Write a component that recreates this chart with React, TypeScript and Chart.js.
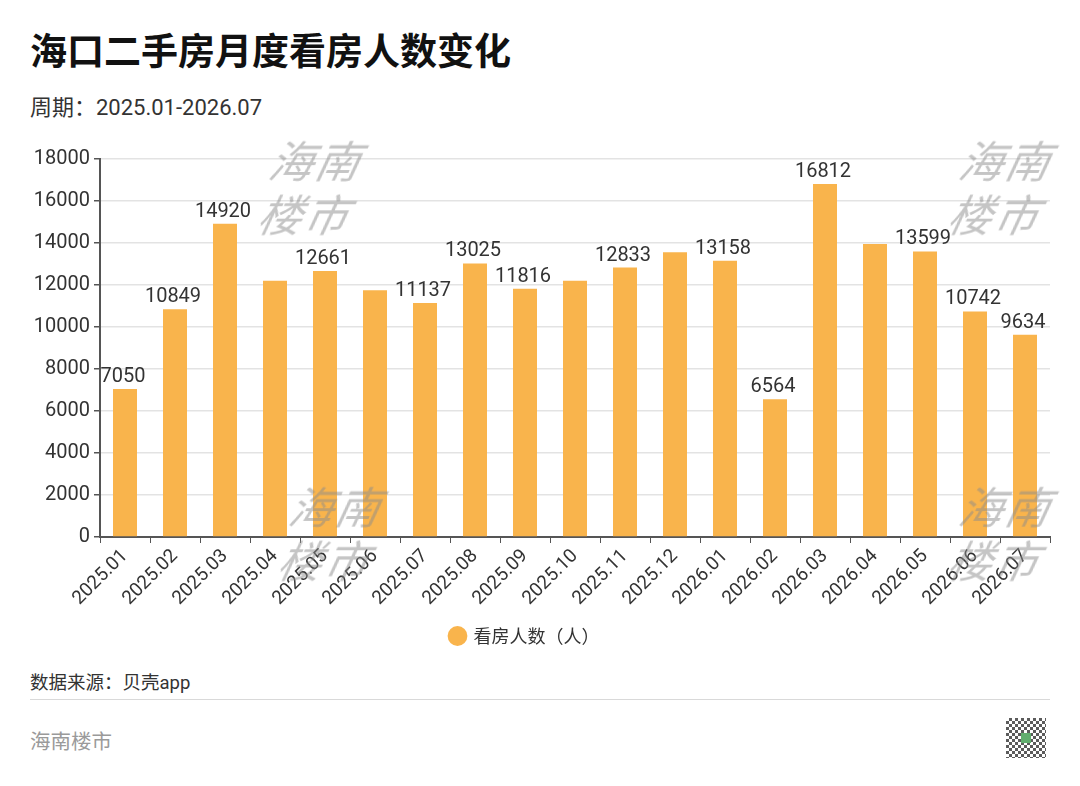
import React, { useEffect, useRef } from "react";
import { Chart, registerables } from "chart.js";

Chart.register(...registerables);

const categories = [
  "2025.01", "2025.02", "2025.03", "2025.04", "2025.05", "2025.06", "2025.07",
  "2025.08", "2025.09", "2025.10", "2025.11", "2025.12", "2026.01", "2026.02",
  "2026.03", "2026.04", "2026.05", "2026.06", "2026.07",
];
const viewers = [
  7050, 10849, 14920, 12200, 12661, 11750, 11137, 13025, 11816, 12200, 12833,
  13560, 13158, 6564, 16812, 13950, 13599, 10742, 9634,
];
// whether the reference prints the value above the bar
const showValue = [
  true, true, true, false, true, false, true, true, true, false, true, false,
  true, true, true, false, true, true, true,
];
const yTicks = [0, 2000, 4000, 6000, 8000, 10000, 12000, 14000, 16000, 18000];

const FONT = "Roboto, 'Noto Sans CJK SC', 'Noto Sans', sans-serif";
const CJK = "'Noto Sans CJK SC', 'Noto Sans', sans-serif";
const BAR = "#F9B44C";

const valueLabels = {
  id: "valueLabels",
  afterDatasetsDraw(chart: any) {
    const ctx = chart.ctx;
    const meta = chart.getDatasetMeta(0);
    ctx.save();
    ctx.font = `20px ${FONT}`;
    ctx.fillStyle = "#333";
    ctx.textAlign = "center";
    ctx.textBaseline = "alphabetic";
    meta.data.forEach((el: any, i: number) => {
      if (!showValue[i]) return;
      ctx.fillText(String(viewers[i]), el.x - 2, el.y - 7);
    });
    ctx.restore();
  },
};

function ChartCanvas() {
  const ref = useRef<HTMLCanvasElement | null>(null);
  useEffect(() => {
    if (!ref.current) return;
    const chart = new Chart(ref.current, {
      type: "bar",
      data: {
        labels: categories,
        datasets: [
          {
            label: "看房人数（人）",
            data: viewers,
            backgroundColor: BAR,
            borderWidth: 0,
            categoryPercentage: 1,
            barPercentage: 0.48,
          },
        ],
      },
      plugins: [valueLabels],
      options: {
        responsive: false,
        animation: false,
        devicePixelRatio: 1,
        layout: { padding: { left: 0, right: 30, top: 19, bottom: 5 } },
        plugins: {
          title: { display: false },
          tooltip: { enabled: false },
          legend: {
            display: true,
            position: "bottom",
            labels: {
              usePointStyle: true,
              pointStyle: "circle",
              boxWidth: 14,
              boxHeight: 14,
              padding: 10,
              color: "#333",
              font: { family: CJK, size: 18 },
            },
          },
        },
        scales: {
          x: {
            grid: {
              drawOnChartArea: false,
              drawTicks: true,
              tickLength: 6,
              tickColor: "#555",
            },
            border: { display: true, color: "#555", width: 2 },
            ticks: {
              color: "#333",
              font: { family: FONT, size: 19 },
              maxRotation: 45,
              minRotation: 45,
              autoSkip: false,
              padding: 2,
            },
            afterFit(scale: any) {
              scale.height = 80;
            },
          },
          y: {
            min: 0,
            max: 18000,
            afterBuildTicks(scale: any) {
              scale.ticks = yTicks.map((v) => ({ value: v }));
            },
            grid: {
              color: "#e3e3e3",
              lineWidth: 1.5,
              drawTicks: true,
              tickLength: 6,
              tickColor: "#555",
            },
            border: { display: true, color: "#555", width: 2 },
            ticks: {
              color: "#333",
              font: { family: FONT, size: 20 },
              padding: 4,
              callback: (v: any) => String(v),
            },
            afterFit(scale: any) {
              scale.width = 100;
            },
          },
        },
      },
    });
    return () => chart.destroy();
  }, []);
  return (
    <canvas
      ref={ref}
      width={1080}
      height={520}
      style={{ position: "absolute", left: 0, top: 140, width: 1080, height: 520 }}
    />
  );
}

const wmStyle: React.CSSProperties = {
  position: "absolute",
  fontFamily: CJK,
  fontSize: 44,
  lineHeight: "54px",
  color: "rgba(140,140,140,0.5)",
  fontStyle: "italic",
  transform: "skewX(-12deg)",
  width: 100,
  letterSpacing: 2,
  pointerEvents: "none",
  zIndex: 2,
};

export default function App() {
  useEffect(() => {
    document.body.style.margin = "0";
  }, []);
  return (
    <div
      style={{
        position: "relative",
        width: 1080,
        height: 786,
        background: "#fff",
        overflow: "hidden",
        fontFamily: FONT,
      }}
    >
      <div
        style={{
          position: "absolute",
          left: 30,
          top: 24,
          fontFamily: CJK,
          fontSize: 37,
          fontWeight: 700,
          color: "#111",
          lineHeight: "50px",
        }}
      >
        海口二手房月度看房人数变化
      </div>
      <div
        style={{
          position: "absolute",
          left: 30,
          top: 93,
          fontSize: 22,
          color: "#333",
          lineHeight: "30px",
        }}
      >
        周期：2025.01-2026.07
      </div>
      <ChartCanvas />
      <div style={{ ...wmStyle, left: 265, top: 132 }}>海南<br />楼市</div>
      <div style={{ ...wmStyle, left: 955, top: 132 }}>海南<br />楼市</div>
      <div style={{ ...wmStyle, left: 285, top: 478 }}>海南<br />楼市</div>
      <div style={{ ...wmStyle, left: 955, top: 478 }}>海南<br />楼市</div>
      <div
        style={{
          position: "absolute",
          left: 30,
          top: 669,
          fontSize: 18.5,
          color: "#333",
          lineHeight: "28px",
        }}
      >
        数据来源：贝壳app
      </div>
      <div
        style={{
          position: "absolute",
          left: 30,
          top: 699,
          width: 1020,
          height: 1,
          background: "#d9d9d9",
        }}
      />
      <div
        style={{
          position: "absolute",
          left: 30,
          top: 724,
          fontFamily: CJK,
          fontSize: 20.5,
          color: "#9a9a9a",
          lineHeight: "32px",
        }}
      >
        海南楼市
      </div>
      <div
        style={{
          position: "absolute",
          left: 1006,
          top: 718,
          width: 40,
          height: 40,
          background:
            "repeating-conic-gradient(#333 0 25%, #fff 0 50%) 0 0 / 6px 6px",
          opacity: 0.8,
        }}
      >
        <div
          style={{
            position: "absolute",
            left: 15,
            top: 15,
            width: 10,
            height: 10,
            background: "#3a9a4a",
          }}
        />
      </div>
    </div>
  );
}
